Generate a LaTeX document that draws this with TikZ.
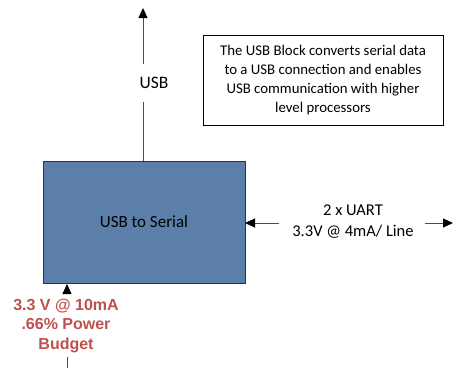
\documentclass[tikz,border=0pt]{standalone}
\usepackage{fontspec}
\setmainfont{Carlito}
\newfontfamily\redfont{Liberation Sans}
\usetikzlibrary{arrows.meta}
\definecolor{boxblue}{HTML}{5B7FA8}
\definecolor{pwrred}{HTML}{C0504D}
\tikzset{
  conn/.style={draw=black!70, line width=0.8pt, -{Triangle[length=10pt,width=9pt,color=black]}},
  lbl/.style={align=center, inner sep=1pt},
}
\begin{document}
\begin{tikzpicture}[x=1pt,y=-1pt]
\useasboundingbox (0,0) rectangle (453,368);
\node[draw=black!80, line width=0.8pt, fill=boxblue, minimum width=202pt, minimum height=122pt, inner sep=0pt, font=\fontsize{17}{19}\selectfont] (blk) at (144,222) {USB to Serial};
\node[draw=black, line width=0.7pt, align=center, inner sep=0pt, minimum width=240pt, minimum height=90pt, font=\fontsize{14.8}{18.8}\selectfont] (note) at (323,80) {The USB Block converts serial data\\to a USB connection and enables\\USB communication with higher\\level processors};
\coordinate (usbtop) at (143,8);
\coordinate (usbbot) at (143,161);
\node[lbl, font=\fontsize{17.5}{19}\selectfont] (usb) at (154,83) {USB};
\draw[draw=black!70, line width=0.8pt] (usbbot) -- (143,102);
\draw[conn] (143,64) -- (usbtop);
\node[lbl, font=\fontsize{16.5}{21}\selectfont] (uart) at (353,222) {2 x UART\\3.3V @ 4mA/ Line};
\coordinate (uartl) at (245,223);
\coordinate (uartr) at (453,223);
\draw[conn] (279,223) -- (uartl);
\draw[conn] (425,223) -- (uartr);
\node[align=center, inner sep=0pt, text=pwrred, font=\redfont\bfseries\fontsize{16}{19.2}\selectfont] (pwr) at (66,326) {3.3 V @ 10mA\\.66\% Power\\Budget};
\coordinate (pwrbot) at (67,368);
\coordinate (pwrtip) at (67,284);
\draw[draw=black!70, line width=0.8pt] (pwrbot) -- (67,357);
\draw[conn] (67,293) -- (pwrtip);
\end{tikzpicture}
\end{document}
